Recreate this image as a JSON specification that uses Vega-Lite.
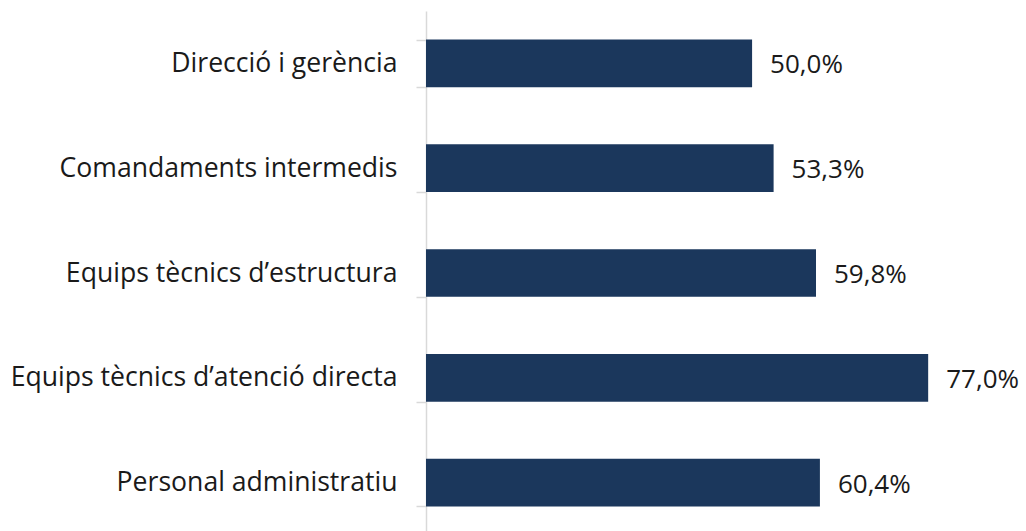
{
  "$schema": "https://vega.github.io/schema/vega-lite/v6.json",
  "autosize": "none",
  "width": 600,
  "height": 524,
  "padding": {"left": 426, "top": 11, "right": 0, "bottom": 0},
  "background": "white",
  "config": {
    "view": {"stroke": null},
    "font": "Open Sans",
    "locale": {"number": {"decimal": ",", "thousands": ".", "grouping": [3], "currency": ["", " €"]}}
  },
  "data": {"values": [
    {"categoria": "Direcció i gerència", "valor": 0.500},
    {"categoria": "Comandaments intermedis", "valor": 0.533},
    {"categoria": "Equips tècnics d’estructura", "valor": 0.598},
    {"categoria": "Equips tècnics d’atenció directa", "valor": 0.770},
    {"categoria": "Personal administratiu", "valor": 0.604}
  ]},
  "encoding": {
    "y": {
      "field": "categoria", "type": "nominal", "sort": null,
      "scale": {"paddingInner": 0.545, "paddingOuter": 0.2725},
      "axis": {
        "title": null, "domainColor": "#d9d9d9", "domainWidth": 1.5,
        "tickColor": "#d9d9d9", "tickSize": 10, "tickWidth": 1.5, "tickBand": "extent",
        "labelFont": "Open Sans", "labelFontSize": 26.6, "labelColor": "#1a1a1a",
        "labelPadding": 19, "labelLimit": 500
      }
    },
    "x": {
      "field": "valor", "type": "quantitative",
      "scale": {"domain": [0, 0.92], "nice": false},
      "axis": null
    }
  },
  "layer": [
    {"mark": {"type": "bar", "color": "#1b375c"}},
    {
      "mark": {"type": "text", "align": "left", "baseline": "middle", "dx": 18, "dy": 2, "font": "Open Sans", "fontSize": 26, "color": "#1a1a1a"},
      "encoding": {"text": {"field": "valor", "type": "quantitative", "format": ".1%"}}
    }
  ]
}
